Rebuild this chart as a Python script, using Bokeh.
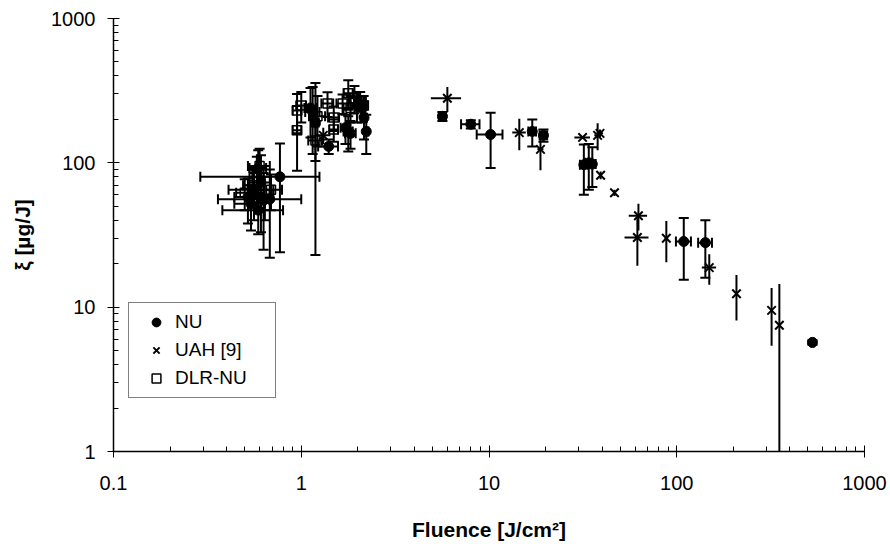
import numpy as np
from bokeh.plotting import figure
from bokeh.models import (ColumnDataSource, Whisker, TeeHead, FixedTicker,
                          CustomJSTickFormatter, Legend, LegendItem)
from bokeh.embed import file_html
from bokeh.resources import INLINE

# ---------------- data ----------------
nu_x = [0.52, 0.54, 0.56, 0.59, 0.59, 0.61, 0.63, 0.68, 0.77, 1.12, 1.15, 1.19, 1.40,
        1.72, 1.78, 1.83, 1.98, 2.10, 2.16, 2.22, 5.65, 8.0, 10.2, 17.0, 19.5, 32.0,
        34.0, 35.5, 109.0, 142.0, 528.0]
nu_y = [58, 52, 65, 92, 47, 73, 55, 56, 80, 240, 225, 190, 130, 175, 165, 160, 250,
        240, 205, 165, 210, 185, 157, 165, 155, 97, 100, 98, 28.5, 28, 5.7]
nu_xerr = [0.08, 0.10, 0.15, 0.06, 0.21, 0.08, 0.05, 0.32, 0.48, 0.08, 0.10, 0.05, 0.17,
           0.10, 0.10, 0.12, 0.15, 0.10, 0.08, 0.06, 0.25, 0.9, 1.6, 0.8, 0.9, 1.5,
           1.5, 1.5, 10.0, 12.0, 8.0]
nu_yerr = [20, 18, 25, 30, 15, 40, 30, 34, 56, 90, 110, 167, 15, 40, 45, 35, 60, 50,
           60, 50, 15, 12, 65, 35, 15, 37, 35, 30, 13, 12, 0.2]

uah_x = [1.31, 6.0, 14.5, 18.8, 31.5, 37.9, 39.0, 39.3, 46.6, 62.5, 61.7, 88.0, 149.0,
         208.0, 320.0, 352.0]
uah_y = [155, 280, 162, 124, 150, 155, 160, 82, 62, 43, 30.4, 30, 18.8, 12.4, 9.5, 7.5]
uah_xerr = [0.12, 1.1, 1.2, 0.7, 3.0, 1.5, 1.5, 0.5, 0.5, 7.0, 9.0, 2.0, 13.0, 2.0, 5.0, 5.0]
uah_yerr = [20, 55, 40, 35, 2, 33, 10, 5, 3, 9, 11, 9.5, 4.5, 4.3, 4.1, 7.0]

dlr_x = [0.50, 0.55, 0.58, 0.60, 0.64, 0.69, 0.95, 0.95, 1.00, 1.19, 1.22, 1.38, 1.49,
         1.49, 1.66, 1.78, 1.83, 2.06, 2.15, 1.92]
dlr_y = [62, 70, 85, 95, 60, 65, 230, 168, 250, 143, 210, 258, 206, 170, 258, 303, 240,
         270, 250, 280]
dlr_xerr = [0.05, 0.06, 0.05, 0.08, 0.07, 0.10, 0.05, 0.05, 0.06, 0.10, 0.12, 0.10, 0.10,
            0.08, 0.12, 0.10, 0.15, 0.15, 0.12, 0.10]
dlr_yerr = [15, 20, 25, 30, 20, 18, 70, 80, 60, 40, 80, 50, 40, 30, 40, 70, 50, 40, 40, 60]

x_ticks = [0.1, 1, 10, 100, 1000]
y_ticks = [1, 10, 100, 1000]
x_label = "Fluence [J/cm²]"
y_label = "ξ [µg/J]"
series_names = ["NU", "UAH [9]", "DLR-NU"]

FONT = "Liberation Sans"

p = figure(width=890, height=547, x_axis_type="log", y_axis_type="log",
           x_range=(0.1, 1000), y_range=(1, 1000),
           output_backend="svg", toolbar_location=None,
           min_border_left=113, min_border_right=26, min_border_top=18,
           min_border_bottom=96)
p.outline_line_color = None
p.xgrid.visible = False
p.ygrid.visible = False
p.background_fill_color = "white"


def make_src(x, y, xe, ye):
    x = np.array(x, float); y = np.array(y, float)
    xe = np.array(xe, float); ye = np.array(ye, float)
    return ColumnDataSource(dict(x=x, y=y, xl=x - xe, xu=x + xe,
                                 yl=np.maximum(y - ye, 0.01), yu=y + ye))


def add_err(src, caps):
    for dim, base, lo, up in (("height", "x", "yl", "yu"), ("width", "y", "xl", "xu")):
        if caps:
            uh = TeeHead(size=10, line_width=2, line_color="black")
            lh = TeeHead(size=10, line_width=2, line_color="black")
        else:
            uh = None
            lh = None
        w = Whisker(source=src, base=base, lower=lo, upper=up, dimension=dim,
                    line_width=2, line_color="black", upper_head=uh, lower_head=lh)
        p.add_layout(w)


nu_src = make_src(nu_x, nu_y, nu_xerr, nu_yerr)
uah_src = make_src(uah_x, uah_y, uah_xerr, uah_yerr)
dlr_src = make_src(dlr_x, dlr_y, dlr_xerr, dlr_yerr)

add_err(dlr_src, True)
add_err(uah_src, False)
add_err(nu_src, True)

r_dlr = p.scatter("x", "y", source=dlr_src, marker="square", size=9,
                  fill_alpha=0, line_color="black", line_width=1.5)
r_uah = p.scatter("x", "y", source=uah_src, marker="x", size=12,
                  line_color="black", line_width=2)
r_nu = p.scatter("x", "y", source=nu_src, marker="circle", size=10,
                 fill_color="black", line_color="black")

# axes
minor_x = [m * 10.0 ** k for k in range(-1, 3) for m in range(2, 10)]
minor_y = [m * 10.0 ** k for k in range(0, 3) for m in range(2, 10)]
p.xaxis.ticker = FixedTicker(ticks=x_ticks, minor_ticks=minor_x)
p.yaxis.ticker = FixedTicker(ticks=y_ticks, minor_ticks=minor_y)
fmt = "return tick.toString();"
p.xaxis.formatter = CustomJSTickFormatter(code=fmt)
p.yaxis.formatter = CustomJSTickFormatter(code=fmt)

for ax in (p.xaxis[0], p.yaxis[0]):
    ax.axis_line_color = "black"
    ax.axis_line_width = 1.5
    ax.major_tick_line_color = "black"
    ax.minor_tick_line_color = "black"
    ax.major_tick_in = 6
    ax.major_tick_out = 6
    ax.minor_tick_in = 5
    ax.minor_tick_out = 0
    ax.major_label_text_font = FONT
    ax.major_label_text_font_size = "20px"
    ax.major_label_text_color = "black"
    ax.axis_label_text_font = FONT
    ax.axis_label_text_font_size = "21px"
    ax.axis_label_text_font_style = "bold"
    ax.axis_label_text_color = "black"

p.xaxis.axis_label = x_label
p.yaxis.axis_label = y_label
p.xaxis.major_label_standoff = 18
p.yaxis.major_label_standoff = 12
p.xaxis.axis_label_standoff = 25
p.yaxis.axis_label_standoff = 14

legend = Legend(items=[LegendItem(label=series_names[0], renderers=[r_nu]),
                       LegendItem(label=series_names[1], renderers=[r_uah]),
                       LegendItem(label=series_names[2], renderers=[r_dlr])],
                location=(15, 53))
legend.border_line_color = "black"
legend.border_line_width = 1
legend.background_fill_color = "white"
legend.background_fill_alpha = 1
legend.label_text_font = FONT
legend.label_text_font_size = "19px"
legend.label_text_color = "black"
legend.padding = 8
legend.spacing = 6
legend.label_height = 22
legend.glyph_height = 22
legend.glyph_width = 38
legend.label_standoff = 0
legend.label_width = 92
legend.margin = 0
p.add_layout(legend)

open("out.html", "w").write(file_html(p, INLINE))
